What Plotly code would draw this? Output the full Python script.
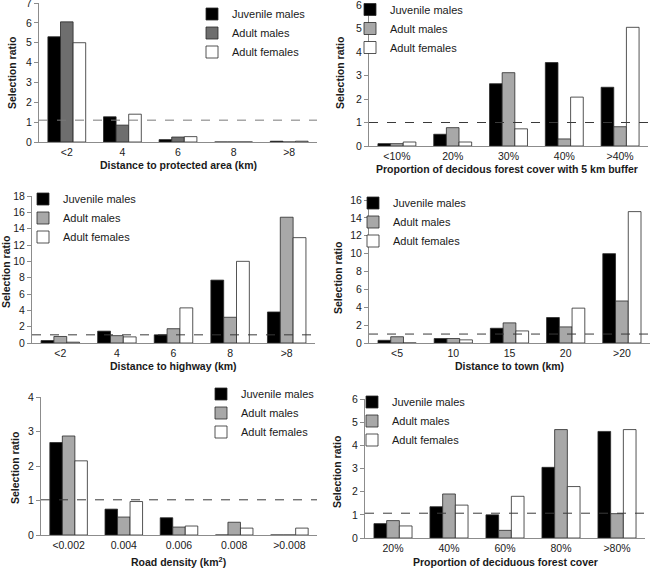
import plotly.graph_objects as go

W, H = 652, 568

# ---------------- data ----------------
series_names = ["Juvenile males", "Adult males", "Adult females"]

cat_protected = ["<2", "4", "6", "8", ">8"]
protected_jm = [5.3, 1.27, 0.12, 0, 0.04]
protected_am = [6.05, 0.85, 0.25, 0, 0.0]
protected_af = [5.0, 1.4, 0.27, 0, 0.04]

cat_buffer = ["<10%", "20%", "30%", "40%", ">40%"]
buffer_jm = [0.1, 0.5, 2.65, 3.55, 2.5]
buffer_am = [0.1, 0.78, 3.12, 0.3, 0.82]
buffer_af = [0.17, 0.17, 0.73, 2.08, 5.05]

cat_highway = ["<2", "4", "6", "8", ">8"]
highway_jm = [0.3, 1.45, 1.0, 7.7, 3.8]
highway_am = [0.8, 0.9, 1.75, 3.15, 15.4]
highway_af = [0.1, 0.75, 4.3, 10.0, 12.9]

cat_town = ["<5", "10", "15", "20", ">20"]
town_jm = [0.3, 0.5, 1.65, 2.85, 10.0]
town_am = [0.7, 0.5, 2.25, 1.8, 4.7]
town_af = [0.0, 0.35, 1.35, 3.9, 14.7]

cat_road = ["<0.002", "0.004", "0.006", "0.008", ">0.008"]
road_jm = [2.68, 0.75, 0.5, 0, 0]
road_am = [2.87, 0.52, 0.23, 0.37, 0]
road_af = [2.15, 0.97, 0.26, 0.2, 0.2]

cat_forest = ["20%", "40%", "60%", "80%", ">80%"]
forest_jm = [0.62, 1.35, 1.0, 3.05, 4.6]
forest_am = [0.75, 1.9, 0.33, 4.68, 1.05]
forest_af = [0.52, 1.42, 1.8, 2.22, 4.68]

x_titles = [
    "Distance to protected area (km)",
    "Proportion of decidous forest cover with 5 km buffer",
    "Distance to highway (km)",
    "Distance to town (km)",
    "Road density (km<sup>2</sup>)",
    "Proportion of deciduous forest cover",
]
y_title = "Selection ratio"
y_max = [7, 6, 18, 16, 4, 6]
y_dtick = [1, 1, 2, 2, 1, 1]
ref_lines = [1.1, 1.0, 1.0, 1.0, 1.02, 1.07]

panels = [
    (cat_protected, protected_jm, protected_am, protected_af),
    (cat_buffer, buffer_jm, buffer_am, buffer_af),
    (cat_highway, highway_jm, highway_am, highway_af),
    (cat_town, town_jm, town_am, town_af),
    (cat_road, road_jm, road_am, road_af),
    (cat_forest, forest_jm, forest_am, forest_af),
]

# ---------------- layout (pixels) ----------------
plot_boxes = [  # x0, x1, ytop, ybottom
    (39, 317, 3, 142),
    (369, 648, 5, 146),
    (32, 315, 196, 343),
    (369, 650, 200, 343),
    (41, 317, 397, 535),
    (365, 645, 399, 538),
]
xtitle_pos = [(178, 165), (507, 169), (173, 366), (509, 366), (178, 561), (505, 562)]
ytitle_pos = [(12, 73), (340, 73), (6, 272), (338, 278), (15, 468), (337, 472)]
legend_pos = [(192, -0.5), (350, -5), (23, 184.5), (353, 188.5), (201, 379.5), (352, 387.5)]

FONT = "Liberation Sans"
TXT = "#1a1a1a"
AXC = "#8c8c8c"

def fx(px):
    return px / W

def fy(py):
    return 1 - py / H

am_colors = ["#6e6e6e", "#a8a8a8", "#a8a8a8", "#a8a8a8", "#a8a8a8", "#a8a8a8"]

fig = go.Figure()
shapes = []
annotations = []
layout_extra = {}

for i, (cats, jm, am, af) in enumerate(panels):
    n = i + 1
    xa = "x" if n == 1 else f"x{n}"
    ya = "y" if n == 1 else f"y{n}"
    lg = "legend" if n == 1 else f"legend{n}"
    colors = ["#000000", am_colors[i], "#ffffff"]
    for name, vals, col in zip(series_names, [jm, am, af], colors):
        fig.add_trace(go.Bar(
            x=cats, y=vals, name=name, xaxis=xa, yaxis=ya, legend=lg,
            marker=dict(color=col, line=dict(color="#2a2a2a", width=0.8)),
            offsetgroup=name,
        ))
    x0, x1, yt, yb = plot_boxes[i]
    xk = "xaxis" if n == 1 else f"xaxis{n}"
    yk = "yaxis" if n == 1 else f"yaxis{n}"
    layout_extra[xk] = dict(
        domain=[fx(x0), fx(x1)], anchor=ya, type="category",
        showline=True, linecolor=AXC, linewidth=1, ticks="", showgrid=False,
        tickfont=dict(family=FONT, size=10.5, color=TXT), fixedrange=True,
        automargin=False,
    )
    layout_extra[yk] = dict(
        domain=[fy(yb), fy(yt)], anchor=xa, range=[0, y_max[i]], dtick=y_dtick[i],
        showline=True, linecolor=AXC, linewidth=1, ticks="outside", ticklen=4,
        tickcolor=AXC, showgrid=False, zeroline=False, automargin=False,
        ticklabeloverflow="allow",
        tickfont=dict(family=FONT, size=10.5, color=TXT),
    )
    lx, ly = legend_pos[i]
    layout_extra[lg] = dict(
        x=fx(lx), y=fy(ly), xanchor="left", yanchor="top",
        bgcolor="rgba(0,0,0,0)", borderwidth=0,
        font=dict(family=FONT, size=11, color=TXT),
        itemclick=False, itemdoubleclick=False, tracegroupgap=0,
    )
    shapes.append(dict(
        type="line", xref=f"{xa} domain", yref=ya, x0=0, x1=1,
        y0=ref_lines[i], y1=ref_lines[i],
        line=dict(color="#7a7a7a" if n == 1 else "#3a3a3a", width=1, dash="dash"),
    ))
    tx, ty = xtitle_pos[i]
    annotations.append(dict(
        text=f"<b>{x_titles[i]}</b>", x=fx(tx), y=fy(ty), xref="paper", yref="paper",
        xanchor="center", yanchor="middle", showarrow=False,
        font=dict(family=FONT, size=10.5, color=TXT),
    ))
    ax_, ay_ = ytitle_pos[i]
    annotations.append(dict(
        text=f"<b>{y_title}</b>", x=fx(ax_), y=fy(ay_), xref="paper", yref="paper",
        xanchor="center", yanchor="middle", showarrow=False, textangle=-90,
        font=dict(family=FONT, size=10.5, color=TXT),
    ))

fig.update_layout(
    width=W, height=H, margin=dict(l=0, r=0, t=0, b=0, autoexpand=False),
    paper_bgcolor="white", plot_bgcolor="white",
    barmode="group", bargap=0.32, bargroupgap=0,
    shapes=shapes, annotations=annotations,
    font=dict(family=FONT, color=TXT),
    **layout_extra,
)

fig.write_html(
    "out.html",
    config={"displayModeBar": False},
    post_script="document.body.style.margin='0';",
)
